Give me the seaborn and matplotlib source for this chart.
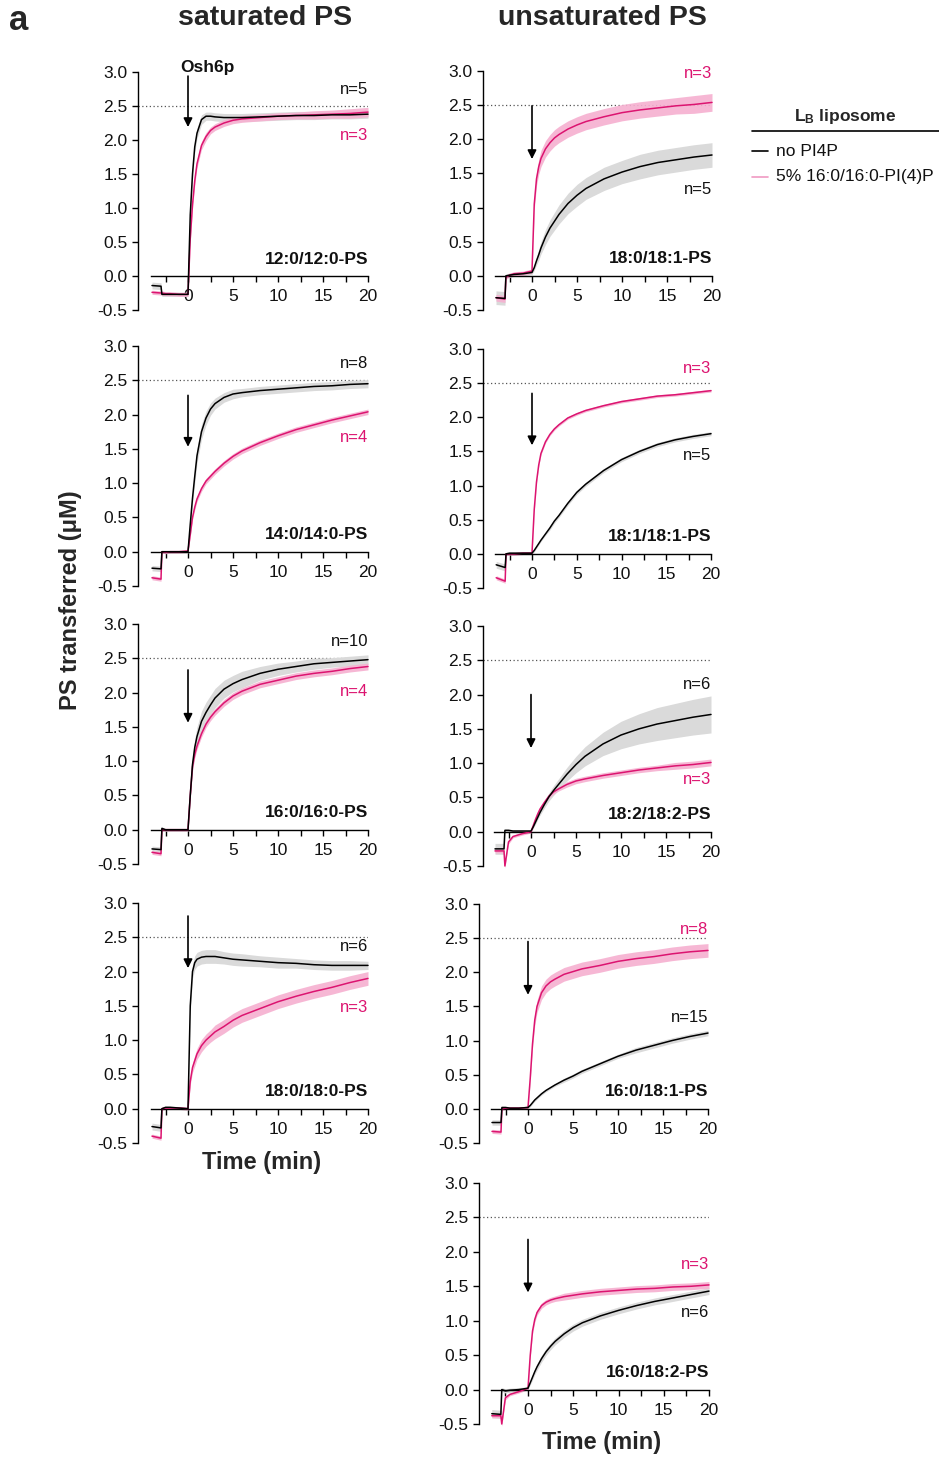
import matplotlib
matplotlib.use("Agg")
import matplotlib.pyplot as plt
import seaborn as sns
from matplotlib.lines import Line2D

# ---------------------------------------------------------------- data
# time after Osh6p injection (min); the liposome step sits near -2.9 min
T = [-4.0, -3.0, -2.9, -2.5, -2.0, -1.0, 0.0, 0.25, 0.5, 0.75, 1.0, 1.5, 2.0,
     2.5, 3.0, 4.0, 5.0, 6.0, 8.0, 10.0, 12.0, 14.0, 16.0, 18.0, 20.0]

# 12:0/12:0-PS
dlps_np = [-0.14, -0.15, -0.27, -0.27, -0.27, -0.27, -0.27, 0.90, 1.50, 1.90, 2.10, 2.30, 2.35,
           2.35, 2.34, 2.33, 2.33, 2.33, 2.34, 2.35, 2.36, 2.36, 2.37, 2.37, 2.38]
dlps_np_sem = [0.05, 0.05, 0.03, 0.03, 0.03, 0.03, 0.03, 0.08, 0.08, 0.08, 0.08, 0.07, 0.06,
               0.06, 0.06, 0.06, 0.06, 0.06, 0.06, 0.06, 0.06, 0.06, 0.06, 0.06, 0.06]
dlps_pip = [-0.24, -0.25, -0.25, -0.26, -0.26, -0.27, -0.27, 0.55, 1.05, 1.40, 1.65, 1.92, 2.05,
            2.14, 2.19, 2.25, 2.29, 2.31, 2.33, 2.35, 2.36, 2.37, 2.38, 2.39, 2.41]
dlps_pip_sem = [0.03, 0.03, 0.03, 0.03, 0.03, 0.03, 0.03, 0.05, 0.06, 0.06, 0.06, 0.06, 0.06,
                0.05, 0.05, 0.05, 0.05, 0.05, 0.05, 0.05, 0.05, 0.06, 0.06, 0.07, 0.07]

# 14:0/14:0-PS
dmps_np = [-0.24, -0.25, 0.00, 0.00, 0.00, 0.00, 0.00, 0.40, 0.78, 1.10, 1.40, 1.75, 1.95,
           2.08, 2.16, 2.25, 2.30, 2.32, 2.35, 2.37, 2.39, 2.41, 2.42, 2.44, 2.45]
dmps_np_sem = [0.04, 0.04, 0.02, 0.02, 0.02, 0.02, 0.02, 0.06, 0.08, 0.10, 0.11, 0.11, 0.10,
               0.09, 0.08, 0.07, 0.07, 0.06, 0.06, 0.06, 0.06, 0.06, 0.06, 0.06, 0.06]
dmps_pip = [-0.38, -0.40, 0.00, -0.01, 0.00, 0.00, 0.01, 0.25, 0.50, 0.65, 0.77, 0.92, 1.03,
            1.10, 1.17, 1.29, 1.39, 1.47, 1.59, 1.69, 1.78, 1.85, 1.92, 1.98, 2.04]
dmps_pip_sem = [0.03, 0.03, 0.02, 0.02, 0.02, 0.02, 0.02, 0.03, 0.03, 0.04, 0.04, 0.04, 0.04,
                0.04, 0.04, 0.04, 0.04, 0.04, 0.04, 0.04, 0.04, 0.04, 0.04, 0.04, 0.04]

# 16:0/16:0-PS
dpps_np = [-0.28, -0.29, 0.02, 0.00, 0.00, 0.00, 0.00, 0.50, 0.95, 1.20, 1.36, 1.58, 1.71,
           1.82, 1.92, 2.05, 2.13, 2.19, 2.28, 2.34, 2.38, 2.42, 2.44, 2.46, 2.48]
dpps_np_sem = [0.04, 0.04, 0.02, 0.02, 0.02, 0.02, 0.02, 0.06, 0.10, 0.13, 0.14, 0.15, 0.15,
               0.14, 0.14, 0.13, 0.12, 0.12, 0.10, 0.09, 0.08, 0.08, 0.07, 0.07, 0.07]
dpps_pip = [-0.33, -0.35, 0.00, 0.00, 0.00, 0.00, 0.00, 0.50, 0.92, 1.10, 1.22, 1.40, 1.54,
            1.64, 1.72, 1.85, 1.95, 2.02, 2.12, 2.18, 2.24, 2.28, 2.31, 2.35, 2.38]
dpps_pip_sem = [0.03, 0.03, 0.02, 0.02, 0.02, 0.02, 0.02, 0.04, 0.05, 0.05, 0.05, 0.05, 0.05,
                0.05, 0.05, 0.05, 0.05, 0.05, 0.05, 0.05, 0.05, 0.05, 0.05, 0.05, 0.05]

# 18:0/18:0-PS
dsps_np = [-0.26, -0.28, 0.00, 0.02, 0.02, 0.01, 0.00, 1.50, 2.00, 2.13, 2.18, 2.21, 2.22,
           2.22, 2.22, 2.20, 2.18, 2.17, 2.15, 2.13, 2.12, 2.10, 2.09, 2.09, 2.09]
dsps_np_sem = [0.05, 0.05, 0.02, 0.02, 0.02, 0.02, 0.02, 0.10, 0.10, 0.10, 0.10, 0.10, 0.10,
               0.10, 0.10, 0.09, 0.09, 0.09, 0.08, 0.08, 0.07, 0.07, 0.07, 0.07, 0.06]
dsps_pip = [-0.40, -0.43, 0.00, 0.01, 0.01, 0.01, 0.00, 0.40, 0.60, 0.70, 0.80, 0.92, 1.00,
            1.06, 1.12, 1.20, 1.29, 1.36, 1.46, 1.56, 1.64, 1.71, 1.77, 1.84, 1.90]
dsps_pip_sem = [0.03, 0.03, 0.02, 0.02, 0.02, 0.02, 0.02, 0.05, 0.07, 0.08, 0.08, 0.09, 0.09,
                0.09, 0.10, 0.10, 0.10, 0.10, 0.10, 0.10, 0.10, 0.10, 0.10, 0.10, 0.10]

# 18:0/18:1-PS
sops_np = [-0.32, -0.33, 0.00, 0.01, 0.02, 0.03, 0.05, 0.12, 0.22, 0.31, 0.41, 0.57, 0.70,
           0.80, 0.90, 1.06, 1.18, 1.28, 1.42, 1.52, 1.60, 1.66, 1.70, 1.74, 1.77]
sops_np_sem = [0.10, 0.10, 0.03, 0.03, 0.03, 0.03, 0.03, 0.04, 0.06, 0.08, 0.09, 0.11, 0.12,
               0.13, 0.14, 0.15, 0.16, 0.16, 0.17, 0.17, 0.18, 0.18, 0.18, 0.18, 0.18]
sops_pip = [-0.32, -0.34, -0.02, 0.01, 0.03, 0.04, 0.07, 1.05, 1.42, 1.60, 1.72, 1.86, 1.95,
            2.02, 2.07, 2.15, 2.21, 2.26, 2.33, 2.39, 2.43, 2.46, 2.49, 2.51, 2.54]
sops_pip_sem = [0.05, 0.05, 0.03, 0.03, 0.03, 0.03, 0.03, 0.08, 0.10, 0.11, 0.12, 0.12, 0.12,
                0.12, 0.12, 0.12, 0.12, 0.12, 0.12, 0.12, 0.12, 0.12, 0.12, 0.13, 0.13]

# 18:1/18:1-PS
dops_np = [-0.16, -0.20, 0.00, 0.01, 0.01, 0.01, 0.01, 0.05, 0.10, 0.15, 0.20, 0.29, 0.38,
           0.48, 0.56, 0.74, 0.90, 1.02, 1.22, 1.38, 1.50, 1.60, 1.67, 1.72, 1.76]
dops_np_sem = [0.05, 0.05, 0.02, 0.02, 0.02, 0.02, 0.02, 0.02, 0.02, 0.02, 0.02, 0.02, 0.03,
               0.03, 0.03, 0.03, 0.03, 0.03, 0.03, 0.03, 0.03, 0.03, 0.03, 0.03, 0.03]
dops_pip = [-0.35, -0.40, 0.00, 0.00, 0.00, 0.01, 0.01, 0.65, 1.05, 1.30, 1.47, 1.64, 1.75,
            1.83, 1.89, 1.99, 2.05, 2.10, 2.17, 2.23, 2.27, 2.31, 2.33, 2.36, 2.39]
dops_pip_sem = [0.03, 0.03, 0.02, 0.02, 0.02, 0.02, 0.02, 0.02, 0.02, 0.02, 0.02, 0.02, 0.02,
                0.02, 0.02, 0.02, 0.02, 0.02, 0.02, 0.02, 0.02, 0.02, 0.02, 0.02, 0.02]

# 18:2/18:2-PS
dlips_np = [-0.25, -0.25, 0.02, 0.02, 0.01, 0.01, 0.01, 0.07, 0.14, 0.21, 0.28, 0.40, 0.51,
            0.60, 0.68, 0.84, 0.98, 1.10, 1.28, 1.41, 1.50, 1.57, 1.62, 1.67, 1.71]
dlips_np_sem = [0.08, 0.08, 0.02, 0.02, 0.02, 0.02, 0.02, 0.02, 0.03, 0.03, 0.04, 0.05, 0.06,
                0.07, 0.08, 0.10, 0.12, 0.14, 0.17, 0.20, 0.22, 0.24, 0.25, 0.26, 0.27]
dlips_pip = [-0.28, -0.28, -0.50, -0.15, -0.07, -0.03, 0.00, 0.09, 0.18, 0.26, 0.33, 0.43, 0.52,
             0.58, 0.62, 0.69, 0.74, 0.77, 0.82, 0.86, 0.90, 0.93, 0.96, 0.98, 1.01]
dlips_pip_sem = [0.03, 0.03, 0.03, 0.03, 0.02, 0.02, 0.02, 0.02, 0.02, 0.03, 0.03, 0.03, 0.03,
                 0.03, 0.03, 0.04, 0.04, 0.04, 0.04, 0.04, 0.04, 0.04, 0.05, 0.05, 0.05]

# 16:0/18:1-PS
pops_np = [-0.20, -0.20, 0.02, 0.02, 0.01, 0.01, 0.02, 0.05, 0.09, 0.13, 0.16, 0.22, 0.27,
           0.31, 0.35, 0.42, 0.48, 0.55, 0.66, 0.77, 0.86, 0.93, 1.00, 1.06, 1.11]
pops_np_sem = [0.04, 0.04, 0.02, 0.02, 0.02, 0.02, 0.02, 0.02, 0.02, 0.02, 0.02, 0.02, 0.02,
               0.02, 0.02, 0.03, 0.03, 0.03, 0.03, 0.03, 0.04, 0.04, 0.04, 0.04, 0.04]
pops_pip = [-0.33, -0.34, 0.00, 0.01, 0.01, 0.01, 0.02, 0.45, 0.95, 1.30, 1.50, 1.70, 1.80,
            1.86, 1.90, 1.97, 2.01, 2.05, 2.10, 2.16, 2.20, 2.23, 2.27, 2.30, 2.32]
pops_pip_sem = [0.03, 0.03, 0.02, 0.02, 0.02, 0.02, 0.02, 0.04, 0.06, 0.08, 0.09, 0.10, 0.10,
                0.10, 0.10, 0.10, 0.10, 0.10, 0.10, 0.10, 0.10, 0.10, 0.10, 0.10, 0.10]

# 16:0/18:2-PS
plps_np = [-0.35, -0.36, 0.00, -0.02, -0.01, 0.00, 0.02, 0.10, 0.18, 0.26, 0.33, 0.45, 0.55,
           0.63, 0.70, 0.81, 0.90, 0.97, 1.07, 1.15, 1.22, 1.28, 1.33, 1.38, 1.43]
plps_np_sem = [0.06, 0.06, 0.03, 0.03, 0.03, 0.03, 0.02, 0.03, 0.04, 0.04, 0.05, 0.05, 0.05,
               0.05, 0.05, 0.05, 0.05, 0.05, 0.05, 0.05, 0.05, 0.05, 0.05, 0.05, 0.05]
plps_pip = [-0.38, -0.38, -0.50, -0.12, -0.07, -0.03, 0.02, 0.50, 0.85, 1.02, 1.12, 1.22, 1.27,
            1.30, 1.32, 1.35, 1.37, 1.39, 1.42, 1.44, 1.46, 1.47, 1.49, 1.50, 1.52]
plps_pip_sem = [0.03, 0.03, 0.03, 0.03, 0.02, 0.02, 0.02, 0.03, 0.04, 0.04, 0.04, 0.04, 0.04,
                0.04, 0.04, 0.05, 0.05, 0.05, 0.05, 0.05, 0.05, 0.05, 0.05, 0.05, 0.05]

species = ["12:0/12:0-PS", "14:0/14:0-PS", "16:0/16:0-PS", "18:0/18:0-PS",
           "18:0/18:1-PS", "18:1/18:1-PS", "18:2/18:2-PS", "16:0/18:1-PS", "16:0/18:2-PS"]
n_np = ["n=5", "n=8", "n=10", "n=6", "n=5", "n=5", "n=6", "n=15", "n=6"]
n_pip = ["n=3", "n=4", "n=4", "n=3", "n=3", "n=3", "n=3", "n=8", "n=3"]
y_ticks = [-0.5, 0.0, 0.5, 1.0, 1.5, 2.0, 2.5, 3.0]
x_major = [0, 5, 10, 15, 20]
x_minor = [-2.5, 2.5, 7.5, 12.5, 17.5]
legend_labels = ["no PI4P", "5% 16:0/16:0-PI(4)P"]

traces = [
    (dlps_np, dlps_np_sem, dlps_pip, dlps_pip_sem),
    (dmps_np, dmps_np_sem, dmps_pip, dmps_pip_sem),
    (dpps_np, dpps_np_sem, dpps_pip, dpps_pip_sem),
    (dsps_np, dsps_np_sem, dsps_pip, dsps_pip_sem),
    (sops_np, sops_np_sem, sops_pip, sops_pip_sem),
    (dops_np, dops_np_sem, dops_pip, dops_pip_sem),
    (dlips_np, dlips_np_sem, dlips_pip, dlips_pip_sem),
    (pops_np, pops_np_sem, pops_pip, pops_pip_sem),
    (plps_np, plps_np_sem, plps_pip, plps_pip_sem),
]

# ---------------------------------------------------------------- layout / style
# per panel: spine x, zero x, x at 20 min, y of 3.0, y of -0.5 (pixels)
frames = [
    (138, 188, 368, 72, 310), (138, 188, 368, 346, 586),
    (138, 188, 368, 624, 864), (138, 188, 368, 903, 1143),
    (483, 532, 712, 71, 310), (483, 532, 711, 349, 588),
    (483, 531, 711, 626, 866), (479, 528, 708, 904, 1143),
    (479, 528, 709, 1183, 1424),
]
# label heights (data units) for the n annotations and the injection arrows
n_np_y = [2.74, 2.75, 2.75, 2.37, 1.27, 1.44, 2.15, 1.34, 1.12]
n_pip_y = [2.07, 1.67, 2.01, 1.47, 2.97, 2.72, 0.76, 2.63, 1.82]
arrow_top = [2.94, 2.28, 2.33, 2.81, 2.49, 2.35, 2.00, 2.45, 2.18]
arrow_tip = [2.19, 1.53, 1.56, 2.05, 1.71, 1.59, 1.22, 1.67, 1.41]

PINK = "#DC1470"
PINK_BAND = "#F6B0D0"
GRAY_BAND = "#DADADA"

sns.set_style("ticks")
plt.rcParams["font.family"] = ["Liberation Sans", "DejaVu Sans"]
plt.rcParams["axes.unicode_minus"] = False
plt.rcParams["mathtext.fontset"] = "custom"
plt.rcParams["mathtext.rm"] = "Liberation Sans"
plt.rcParams["mathtext.bf"] = "Liberation Sans:bold"

W, H = 939, 1461
fig = plt.figure(figsize=(W / 100, H / 100), dpi=100)


def fx(px):
    return px / W


def fy(py):
    return 1 - py / H


for i, (lab, (bk, bk_sem, pk, pk_sem)) in enumerate(zip(species, traces)):
    sx, zx, ex, ty, by = frames[i]
    ax = fig.add_axes([fx(sx), fy(by), fx(ex - sx), (by - ty) / H])

    lo = [v - s for v, s in zip(bk, bk_sem)]
    hi = [v + s for v, s in zip(bk, bk_sem)]
    ax.fill_between(T, lo, hi, color=GRAY_BAND, lw=0, clip_on=False, zorder=1)
    lo = [v - s for v, s in zip(pk, pk_sem)]
    hi = [v + s for v, s in zip(pk, pk_sem)]
    ax.fill_between(T, lo, hi, color=PINK_BAND, lw=0, alpha=0.9, clip_on=False, zorder=2)
    sns.lineplot(x=T, y=pk, ax=ax, color=PINK, lw=1.1, sort=False, estimator=None, zorder=3)
    sns.lineplot(x=T, y=bk, ax=ax, color="black", lw=1.1, sort=False, estimator=None, zorder=4)
    for ln in ax.lines:
        ln.set_clip_on(False)

    ax.axhline(2.5, color="#555555", lw=0.9, ls=(0, (1, 2)), zorder=0)

    ax.set_xlim(-20 * (zx - sx) / (ex - zx), 20)
    ax.set_ylim(-0.5, 3.0)
    ax.set_xlabel("")
    ax.set_ylabel("")

    for side in ("top", "right"):
        ax.spines[side].set_visible(False)
    ax.spines["left"].set_bounds(-0.5, 3.0)
    ax.spines["bottom"].set_position(("data", 0))
    ax.spines["bottom"].set_bounds(-4.1, 20)
    for side in ("left", "bottom"):
        ax.spines[side].set_linewidth(1.0)
        ax.spines[side].set_color("black")

    ax.set_yticks(y_ticks)
    ax.set_yticklabels([f"{v:.1f}" for v in y_ticks])
    ax.set_xticks(x_major)
    ax.set_xticklabels([str(v) for v in x_major])
    ax.set_xticks(x_minor, minor=True)
    ax.tick_params(axis="both", which="both", direction="out", length=4.5, width=1.0,
                   color="black", labelsize=12.5, labelcolor="#111111")
    ax.tick_params(axis="y", pad=3)
    ax.tick_params(axis="x", pad=5)

    ax.annotate("", xy=(0, arrow_tip[i]), xytext=(0, arrow_top[i]),
                arrowprops=dict(arrowstyle="-|>", color="black", lw=1.2,
                                mutation_scale=13, shrinkA=0, shrinkB=0),
                annotation_clip=False, zorder=6)

    ax.text(20, 0.25, lab, ha="right", va="center", fontsize=12.5,
            fontweight="bold", color="#111111", zorder=7)
    ax.text(20, n_np_y[i], n_np[i], ha="right", va="center", fontsize=12,
            color="#111111", zorder=7)
    ax.text(20, n_pip_y[i], n_pip[i], ha="right", va="center", fontsize=12,
            color=PINK, zorder=7)

    if i == 0:
        ax.text(2.2, 3.07, "Osh6p", ha="center", va="center", fontsize=12.5,
                fontweight="bold", color="#111111")

# figure-level text
fig.text(fx(19), fy(20), "a", ha="center", va="center", fontsize=25, fontweight="bold")
fig.text(fx(265), fy(18), "saturated PS", ha="center", va="center", fontsize=20.5,
         fontweight="bold")
fig.text(fx(602), fy(18), "unsaturated PS", ha="center", va="center", fontsize=20.5,
         fontweight="bold")
fig.text(fx(70), fy(600), "PS transferred (μM)", ha="center", va="center",
         rotation=90, fontsize=17, fontweight="bold")
fig.text(fx(262), fy(1163), "Time (min)", ha="center", va="center", fontsize=17,
         fontweight="bold")
fig.text(fx(602), fy(1443), "Time (min)", ha="center", va="center", fontsize=17,
         fontweight="bold")

# legend
fig.text(fx(845), fy(117), r"$\mathbf{L_B}$ liposome", ha="center", va="center",
         fontsize=12.5, fontweight="bold")
fig.add_artist(Line2D([fx(752), fx(939)], [fy(131), fy(131)], color="black", lw=1.2))
for yy, col, txt in [(151, "black", legend_labels[0]), (177, "#F09AC2", legend_labels[1])]:
    fig.add_artist(Line2D([fx(752), fx(768)], [fy(yy), fy(yy)], color=col, lw=1.2))
    fig.text(fx(776), fy(yy), txt, ha="left", va="center", fontsize=12.5, color="#111111")

fig.savefig("out.png", dpi=100)
